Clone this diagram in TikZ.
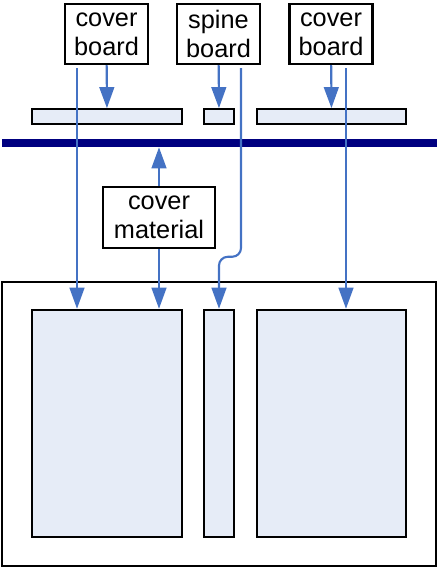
\documentclass[tikz,border=0pt]{standalone}
\usepackage{fontspec}
\setmainfont{Liberation Sans}
\usetikzlibrary{arrows.meta,calc}
\definecolor{arrowblue}{HTML}{4472C4}
\definecolor{boardfill}{HTML}{E6ECF7}
\definecolor{spinenavy}{HTML}{000080}

\begin{document}
\begin{tikzpicture}[x=0.025cm, y=-0.025cm,
    labelbox/.style = {shape=rectangle, draw, line width=1.7pt, align=center,
      font=\fontsize{18}{20.5}\selectfont, inner sep=0pt,
      minimum width=2.075cm, minimum height=1.5cm},
    board/.style = {shape=rectangle, draw, line width=1.2pt, fill=boardfill, inner sep=0pt},
    line/.style = {draw=arrowblue, line width=1.5pt, -{Triangle[length=15pt,width=10.5pt]}}]

  \useasboundingbox (0,0) rectangle (438,568);

  % parts on top
  \node[labelbox] (lcover) at (106.5,34) {cover\\board};
  \node[labelbox] (sboard) at (218.5,34) {spine\\board};
  \node[labelbox] (rcover) at (331,34) {cover\\board};

  \node[board, minimum width=3.75cm, minimum height=0.375cm] (lbar) at (107,116.5) {};
  \node[board, minimum width=0.75cm, minimum height=0.375cm] (sbar) at (219,116.5) {};
  \node[board, minimum width=3.725cm, minimum height=0.375cm] (rbar) at (331.5,116.5) {};

  \node[fill=spinenavy, inner sep=0pt, minimum width=10.875cm, minimum height=0.2cm] (cloth) at (219.5,143) {};

  \node[labelbox, minimum width=2.8cm, minimum height=1.525cm] (cmat) at (159,217.5) {cover\\material};

  % finished case
  \node[draw, line width=1.4pt, inner sep=0pt, minimum width=10.85cm, minimum height=7.1cm] (case) at (219,424) {};
  \node[board, line width=1.7pt, minimum width=3.75cm, minimum height=5.675cm] (lpanel) at (107,423.5) {};
  \node[board, line width=1.7pt, minimum width=0.75cm, minimum height=5.675cm] (spanel) at (219,423.5) {};
  \node[board, line width=1.7pt, minimum width=3.725cm, minimum height=5.675cm] (rpanel) at (331.5,423.5) {};

  \coordinate (lstart) at (77,68);
  \coordinate (sstart) at (241,68);
  \coordinate (rstart) at (346,68);

  \draw[line] (lcover) -- (lbar);
  \draw[line] (sboard) -- (sbar);
  \draw[line] (rcover) -- (rbar);
  \draw[line] (cmat.north) -- (cmat.north |- cloth.south);
  \draw[line] (cmat.south) -- (cmat.south |- lpanel.north);

  \draw[line] (lstart) -- (lstart |- lpanel.north);
  \draw[line, rounded corners=0.22cm] (sstart) |- ($(spanel.north)+(0,-52)$) -- (spanel.north);
  \draw[line] (rstart) -- (rstart |- rpanel.north);

\end{tikzpicture}
\end{document}
